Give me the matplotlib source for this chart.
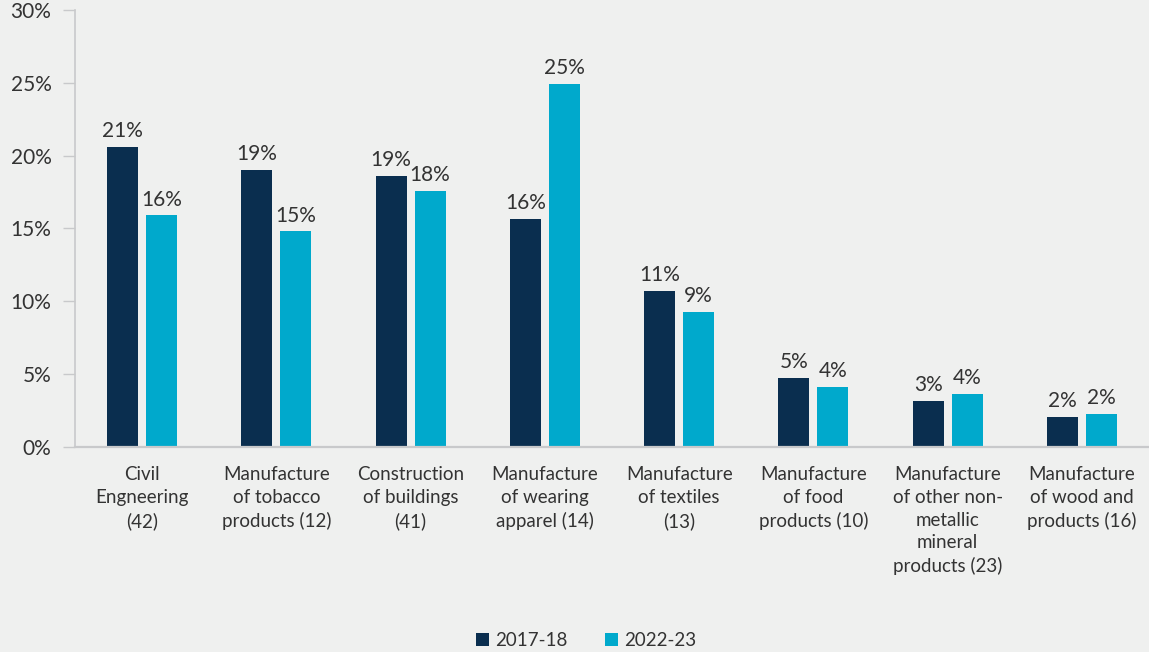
import matplotlib.pyplot as plt
import numpy as np

plt.rcParams['font.family'] = ['Lato', 'DejaVu Sans']

categories = ['Civil\nEngneering\n(42)',
              'Manufacture\nof tobacco\nproducts (12)',
              'Construction\nof buildings\n(41)',
              'Manufacture\nof wearing\napparel (14)',
              'Manufacture\nof textiles\n(13)',
              'Manufacture\nof food\nproducts (10)',
              'Manufacture\nof other non-\nmetallic\nmineral\nproducts (23)',
              'Manufacture\nof wood and\nproducts (16)']
share_1718 = [20.6, 19.0, 18.6, 15.65, 10.7, 4.75, 3.15, 2.05]
share_2223 = [15.9, 14.8, 17.6, 24.9, 9.25, 4.1, 3.65, 2.3]
years = ['2017-18', '2022-23']

navy = '#0a2e4f'
cyan = '#00a9cc'
bg = '#eff0ef'
txt = '#333333'
grey = '#c8c9cb'

fig = plt.figure(figsize=[11.49, 6.52], dpi=100, facecolor=bg)
ax = fig.add_axes([0.0653, 0.3144, 0.9347, 0.6703], facecolor=bg)

x = np.arange(len(categories))
w = 0.23
off = 0.145
b1 = ax.bar(x - off, share_1718, w, color=navy, label=years[0])
b2 = ax.bar(x + off, share_2223, w, color=cyan, label=years[1])

for bars, vals in [(b1, share_1718), (b2, share_2223)]:
    for b, v in zip(bars, vals):
        ax.text(b.get_x() + b.get_width()/2, v + 0.4, '%d%%' % round(v),
                ha='center', va='bottom', fontsize=15, color=txt)

ax.set_xlim(-0.5, 7.5)
ax.set_ylim(0, 30)
ax.set_yticks(np.arange(0, 31, 5))
ax.set_yticklabels(['%d%%' % t for t in range(0, 31, 5)])
ax.set_xticks(x)
ax.set_xticklabels(categories, fontsize=13.5, color=txt, linespacing=1.4, va='top')
ax.tick_params(axis='x', length=0, pad=14)
ax.tick_params(axis='y', length=9, width=1, color=grey, labelsize=15,
               labelcolor=txt, pad=8)

for s in ['top', 'right']:
    ax.spines[s].set_visible(False)
ax.spines['left'].set_color(grey)
ax.spines['bottom'].set_color(grey)
ax.spines['left'].set_linewidth(1.2)
ax.spines['bottom'].set_linewidth(1.6)

fig.legend(loc='lower center', bbox_to_anchor=(0.51, -0.022), ncol=2, frameon=False,
           fontsize=13.5, handlelength=0.7, handleheight=0.7, handletextpad=0.3,
           columnspacing=2.0, labelcolor=txt)

plt.savefig('out.png', dpi=100, facecolor=bg)
